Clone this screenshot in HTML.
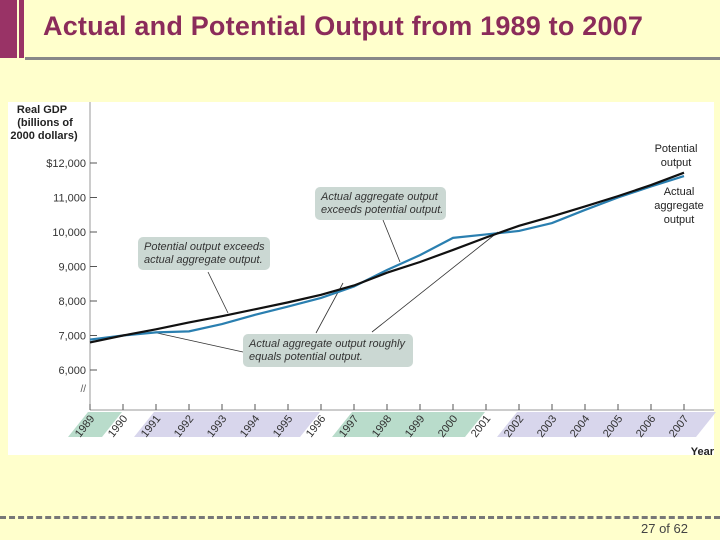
<!DOCTYPE html>
<html><head><meta charset="utf-8"><style>
body{margin:0;width:720px;height:540px;background:#ffffcc;position:relative;overflow:hidden;font-family:"Liberation Sans",sans-serif}
</style></head><body>
<div style="position:absolute;left:0;top:0;width:17px;height:58px;background:#993366"></div>
<div style="position:absolute;left:19px;top:0;width:5px;height:58px;background:#993366"></div>
<div style="position:absolute;left:43px;top:11px;font-size:27px;font-weight:bold;color:#8b2c5a;white-space:nowrap;letter-spacing:0.2px">Actual and Potential Output from 1989 to 2007</div>
<div style="position:absolute;left:25px;top:57px;width:695px;height:3px;background:#888"></div>
<svg id="chart" width="720" height="540" style="position:absolute;left:0;top:0" font-family="Liberation Sans, sans-serif"></svg>
<div style="position:absolute;left:0;top:516px;width:720px;border-top:3px dashed #777"></div>
<div style="position:absolute;left:641px;top:521px;font-size:13px;color:#444">27 of 62</div>
<script>
const years=[1989,1990,1991,1992,1993,1994,1995,1996,1997,1998,1999,2000,2001,2002,2003,2004,2005,2006,2007];
const potential=[6800,7000,7180,7380,7560,7760,7960,8180,8450,8820,9130,9480,9840,10180,10450,10740,11040,11360,11720];
const actual=[6880,7000,7090,7120,7330,7600,7840,8090,8420,8900,9330,9830,9930,10030,10260,10640,11000,11320,11620];
const yTicks=[6000,7000,8000,9000,10000,11000,12000];
const yTickLabels=["6,000","7,000","8,000","9,000","10,000","11,000","$12,000"];
const bandGreen=[[1989,1989],[1997,2000]];
const bandPurple=[[1991,1995],[2002,2007]];
const NS="http://www.w3.org/2000/svg";
const svg=document.getElementById('chart');
const X=y=>90+(y-1989)*33;
const Y=v=>335.5-(v-7000)*0.0345;
function mk(t,a,p){const e=document.createElementNS(NS,t);for(const k in a)e.setAttribute(k,a[k]);(p||svg).appendChild(e);return e;}
const panel=mk('rect',{x:8,y:102,width:706,height:353,fill:'#fff'});


function band(r,col,name){const x0=X(r[0])-22,x1=X(r[1])+12,t=412,b=437;
 const p=mk('polygon',{points:`${x0+20},${t} ${x1+20},${t} ${x1},${b} ${x0},${b}`,fill:col});
 
 }
bandGreen.forEach(r=>band(r,'#b9dccb','year-band-green'));
bandPurple.forEach(r=>band(r,'#d8d6ec','year-band-purple'));
const ya=mk('line',{x1:90,y1:102,x2:90,y2:410,stroke:'#999','stroke-width':1});


const xa=mk('line',{x1:90,y1:410,x2:714,y2:410,stroke:'#999','stroke-width':1});


yTicks.forEach((v,i)=>{mk('line',{x1:90,y1:Y(v),x2:97,y2:Y(v),stroke:'#555'});
 const t=mk('text',{x:86,y:Y(v)+4,'text-anchor':'end','font-size':11,fill:'#333'});t.textContent=yTickLabels[i];
 
 });
mk('text',{x:86,y:392,'text-anchor':'end','font-size':10,fill:'#555'}).textContent='//';
years.forEach(yr=>{mk('line',{x1:X(yr),y1:404,x2:X(yr),y2:410,stroke:'#555'});
 const t=mk('text',{x:X(yr)-10,y:438,'font-size':11,fill:'#333',transform:`rotate(-52 ${X(yr)-10} 438)`});t.textContent=yr;
 
 });
const yl=mk('text',{'font-size':11,'font-weight':'bold',fill:'#222','text-anchor':'middle'});


[['Real GDP',42,113],['(billions of',45,126],['2000 dollars)',44,139]].forEach(a=>{const s=mk('tspan',{x:a[1],y:a[2]},yl);s.textContent=a[0];});
const xl=mk('text',{x:714,y:455,'text-anchor':'end','font-size':11,'font-weight':'bold',fill:'#222'});xl.textContent='Year';


[[383,220,400,262],[208,272,228,313],[157,333,243,352],[316,333,343,283],[372,332,498,232]].forEach(l=>mk('line',{x1:l[0],y1:l[1],x2:l[2],y2:l[3],stroke:'#333','stroke-width':0.8}));
function box(x,y,w,h,lines,name){const r=mk('rect',{x,y,width:w,height:h,rx:5,fill:'#cbd8d3'});
 
 
 lines.forEach((s,i)=>{const t=mk('text',{x:x+6,y:y+13+i*13,'font-size':11,'font-style':'italic',fill:'#333'});t.textContent=s;});}
box(315,187,131,33,['Actual aggregate output','exceeds potential output.'],'callout-actual-exceeds');
box(138,237,132,33,['Potential output exceeds','actual aggregate output.'],'callout-potential-exceeds');
box(243,334,170,33,['Actual aggregate output roughly','equals potential output.'],'callout-roughly-equal');
const pa=mk('path',{d:actual.map((v,i)=>(i?'L':'M')+X(years[i])+','+Y(v)).join(''),fill:'none',stroke:'#2a7fb0','stroke-width':2.2});


const pp=mk('path',{d:potential.map((v,i)=>(i?'L':'M')+X(years[i])+','+Y(v)).join(''),fill:'none',stroke:'#111','stroke-width':2.2});


[['Potential',676,152],['output',676,166]].forEach(a=>{const t=mk('text',{x:a[1],y:a[2],'text-anchor':'middle','font-size':11,fill:'#222'});t.textContent=a[0];
 
 });
[['Actual',679,195],['aggregate',679,209],['output',679,223]].forEach(a=>{const t=mk('text',{x:a[1],y:a[2],'text-anchor':'middle','font-size':11,fill:'#222'});t.textContent=a[0];
 
 });
</script>
</body></html>
